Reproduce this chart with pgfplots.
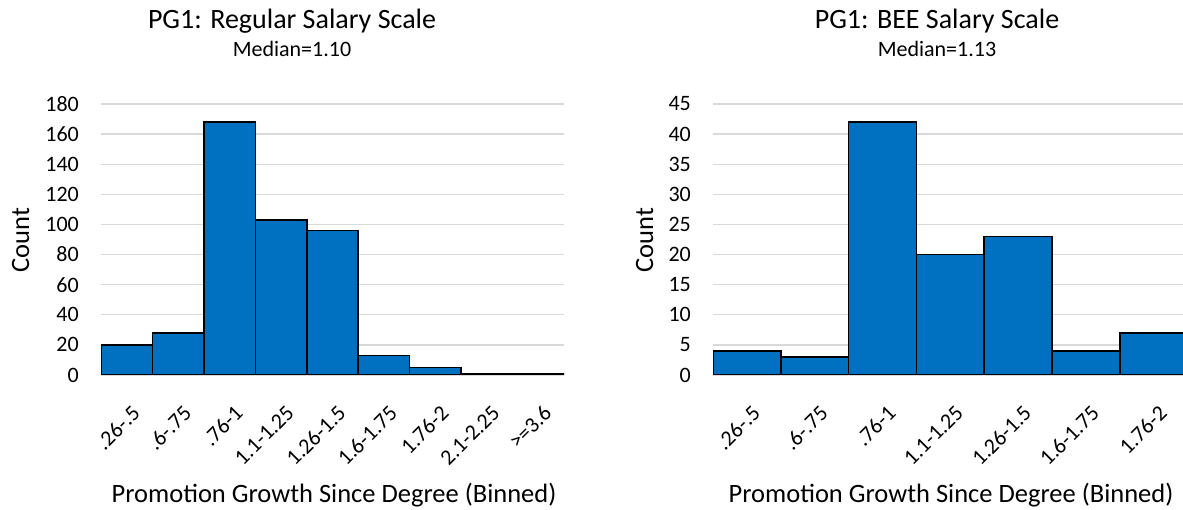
\documentclass[border=0pt]{standalone}
\usepackage{fontspec}
\setmainfont{Carlito}
\usepackage{pgfplots}
\pgfplotsset{compat=1.18}
\definecolor{barblue}{HTML}{0070C0}
\definecolor{gridgray}{HTML}{D9D9D9}
\newcommand{\tickfont}{\fontsize{22bp}{26bp}\selectfont}
\newcommand{\labfont}{\fontsize{26.5bp}{30bp}\selectfont}
\newcommand{\titfont}{\fontsize{28bp}{32bp}\selectfont}
\newcommand{\subfont}{\fontsize{22bp}{26bp}\selectfont}
\begin{document}
\begin{tikzpicture}
\path[use as bounding box] (0,0) rectangle (1183bp,510bp);
\pgfplotsset{
  hist/.style={
    scale only axis, anchor=south west, height=271bp,
    ymin=0, ybar, bar width=1,
    axis line style={draw=none}, major tick length=0pt,
    ymajorgrids, grid style={gridgray, line width=1.3bp},
    xtick=data,
    /pgf/number format/assume math mode=true,
    yticklabel style={font=\tickfont, anchor=east, inner sep=0pt, xshift=-22bp},
    xticklabel style={font=\tickfont, xshift=4bp, yshift=-29bp, rotate=45, anchor=north east, inner sep=0pt},
  },
  histbar/.style={fill=barblue, draw=black, line width=1.5bp},
}
\begin{axis}[hist, at={(101bp,135bp)}, width=463bp,
  xmin=-0.5, xmax=8.5, ymax=180, ytick={0,20,...,180},
  xticklabels={.26-.5,.6-.75,.76-1,1.1-1.25,1.26-1.5,1.6-1.75,1.76-2,2.1-2.25,>=3.6}]
\addplot[histbar] coordinates {(0,20) (1,28) (2,168) (3,103) (4,96) (5,13) (6,5) (7,1) (8,1)};
\end{axis}
\begin{axis}[hist, at={(713bp,135bp)}, width=470bp,
  xmin=-0.5, xmax=6.432, ymax=45, ytick={0,5,...,45},
  xticklabels={.26-.5,.6-.75,.76-1,1.1-1.25,1.26-1.5,1.6-1.75,1.76-2}]
\addplot[histbar] coordinates {(0,4) (1,3) (2,42) (3,20) (4,23) (5,4) (6,7)};
\end{axis}
\node[font=\titfont, anchor=base] at (292bp,481bp) {PG1: Regular Salary Scale};
\node[font=\subfont, anchor=base] at (292bp,453bp) {Median=1.10};
\node[font=\labfont, anchor=base] at (334bp,8bp) {Promotion Growth Since Degree (Binned)};
\node[font=\labfont, rotate=90, anchor=base] at (29bp,270bp) {Count};
\node[font=\titfont, anchor=base] at (937bp,481bp) {PG1: BEE Salary Scale};
\node[font=\subfont, anchor=base] at (937bp,453bp) {Median=1.13};
\node[font=\labfont, anchor=base] at (951bp,8bp) {Promotion Growth Since Degree (Binned)};
\node[font=\labfont, rotate=90, anchor=base] at (653bp,270bp) {Count};
\end{tikzpicture}
\end{document}
